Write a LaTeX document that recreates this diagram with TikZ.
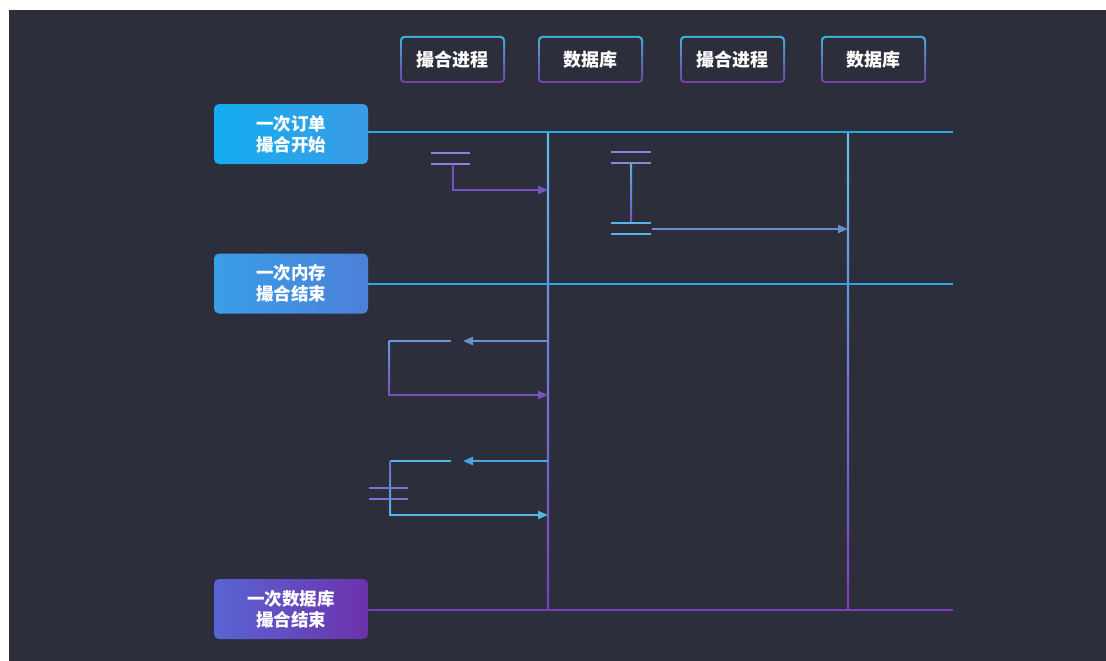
\documentclass[tikz,border=0pt]{standalone}
\usepackage{fontspec}
\newfontfamily\cjk{Noto Sans CJK SC}
\usetikzlibrary{arrows.meta}
\definecolor{bg}{HTML}{2D2E3B}
\definecolor{cyanL}{HTML}{2AA8E6}
\definecolor{purpL}{HTML}{7A3DBD}
\definecolor{hdrTop}{HTML}{40B4D8}
\definecolor{hdrBot}{HTML}{7A3CA8}
\definecolor{barP}{HTML}{8A86D6}
\definecolor{barC}{HTML}{5AB4E8}
\definecolor{arrB}{HTML}{6A90C8}
\definecolor{arrP}{HTML}{7A50C0}
\definecolor{arrC}{HTML}{50B8E8}
\definecolor{lineB}{HTML}{6A98D8}
\definecolor{l1a}{HTML}{14ACEE}
\definecolor{l1b}{HTML}{3A9CE6}
\definecolor{l2a}{HTML}{3A9EE8}
\definecolor{l2b}{HTML}{4C80D8}
\definecolor{l3a}{HTML}{5A64D2}
\definecolor{l3b}{HTML}{6C32AC}
\tikzset{
  hdr/.style={minimum width=105pt, minimum height=47pt, rounded corners=4pt,
    top color=hdrTop, bottom color=hdrBot, text=white, inner sep=0pt,
    font=\cjk\bfseries\fontsize{18pt}{22pt}\selectfont,
    path picture={\fill[bg, rounded corners=3pt]
      ([shift={(2pt,2pt)}]path picture bounding box.south west) rectangle
      ([shift={(-2pt,-2pt)}]path picture bounding box.north east);}},
  lab/.style={minimum width=154pt, minimum height=60pt, rounded corners=5pt,
    text=white, align=center, inner sep=0pt,
    font=\cjk\bfseries\fontsize{17.5pt}{21pt}\selectfont},
  mainline/.style={line width=2.2pt},
  thinline/.style={line width=2pt},
  tip/.style={-{Triangle[length=10pt,width=8pt]}},
}
\begin{document}
\begin{tikzpicture}[x=1pt,y=-1pt]
\useasboundingbox (0,0) rectangle (1106,661);
\fill[white] (0,0) rectangle (1106,661);
\fill[bg] (9,10) rectangle (1106,661);

% header boxes
\node[hdr] (h1) at (452.5,59.5) {撮合进程};
\node[hdr] (h2) at (590.5,59.5) {数据库};
\node[hdr] (h3) at (732.5,59.5) {撮合进程};
\node[hdr] (h4) at (873.5,59.5) {数据库};

% left labels
\node[lab, shading angle=120, left color=l1a, right color=l1b] (L1) at (291,134) {一次订单\\撮合开始};
\node[lab, shading angle=120, left color=l2a, right color=l2b] (L2) at (291,283.5) {一次内存\\撮合结束};
\node[lab, shading angle=120, left color=l3a, right color=l3b] (L3) at (291,609) {一次数据库\\撮合结束};

% coordinates
\coordinate (e1) at (953,132);
\coordinate (e2) at (953,284);
\coordinate (e3) at (953,610);
\coordinate (a1) at (548,132);
\coordinate (a2) at (548,610);
\coordinate (b1) at (848,132);
\coordinate (b2) at (848,610);

% lifelines
\shade[top color=cyanL!75!white, bottom color=purpL] ([xshift=-1.1pt]a1) rectangle ([xshift=1.1pt]a2);
\shade[top color=cyanL!75!white, bottom color=purpL] ([xshift=-1.1pt]b1) rectangle ([xshift=1.1pt]b2);

% horizontal lines
\draw[mainline, cyanL] (L1.east |- e1) -- (e1);
\draw[mainline, cyanL] (L2.east |- e2) -- (e2);
\draw[mainline, purpL] (L3.east |- e3) -- (e3);

% group 1
\coordinate (g1a) at (431,153); \coordinate (g1b) at (470,153);
\coordinate (g1c) at (431,164); \coordinate (g1d) at (470,164);
\coordinate (g1s) at (453,164); \coordinate (g1t) at (548,190);
\draw[thinline, barP] (g1a) -- (g1b);
\draw[thinline, barP] (g1c) -- (g1d);
\draw[thinline, arrP, tip] (g1s) |- (g1t);

% group 2
\coordinate (g2a) at (611,152); \coordinate (g2b) at (651,152);
\coordinate (g2c) at (611,163); \coordinate (g2d) at (651,163);
\coordinate (g2e) at (611,223); \coordinate (g2f) at (651,223);
\coordinate (g2g) at (611,234); \coordinate (g2h) at (651,234);
\coordinate (g2s) at (652,229); \coordinate (g2t) at (848,229);
\shade[top color=barC, bottom color=arrP] (630,163) rectangle (632,223);
\draw[thinline, barP] (g2a) -- (g2b);
\draw[thinline, barP] (g2c) -- (g2d);
\draw[thinline, barC] (g2e) -- (g2f);
\draw[thinline, barC] (g2g) -- (g2h);
\draw[thinline, arrB, tip] (g2s) -- (g2t);

% group 3
\coordinate (g3s) at (548,341); \coordinate (g3t) at (463,341);
\coordinate (g3a) at (451,341); \coordinate (g3b) at (389,341);
\coordinate (g3c) at (389,395); \coordinate (g3d) at (548,395);
\draw[thinline, arrB, tip] (g3s) -- (g3t);
\draw[thinline, lineB] (g3a) -- (g3b);
\shade[top color=lineB, bottom color=arrP] (388,341) rectangle (390,395);
\draw[thinline, arrP, tip] (g3c) -- (g3d);

% group 4
\coordinate (g4s) at (548,461); \coordinate (g4t) at (463,461);
\coordinate (g4a) at (451,461); \coordinate (g4b) at (390,461);
\coordinate (g4c) at (390,515); \coordinate (g4d) at (548,515);
\coordinate (g4e) at (369,488); \coordinate (g4f) at (408,488);
\coordinate (g4g) at (369,499); \coordinate (g4h) at (408,499);
\draw[thinline, arrC!90!blue, tip] (g4s) -- (g4t);
\draw[thinline, arrC] (g4a) -- (g4b);
\shade[top color=arrP!80!arrC, bottom color=arrC] (389,461) rectangle (391,515);
\draw[thinline, arrC, tip] (g4c) -- (g4d);
\draw[thinline, barP!85!blue] (g4e) -- (g4f);
\draw[thinline, barP!85!blue] (g4g) -- (g4h);
\end{tikzpicture}
\end{document}
